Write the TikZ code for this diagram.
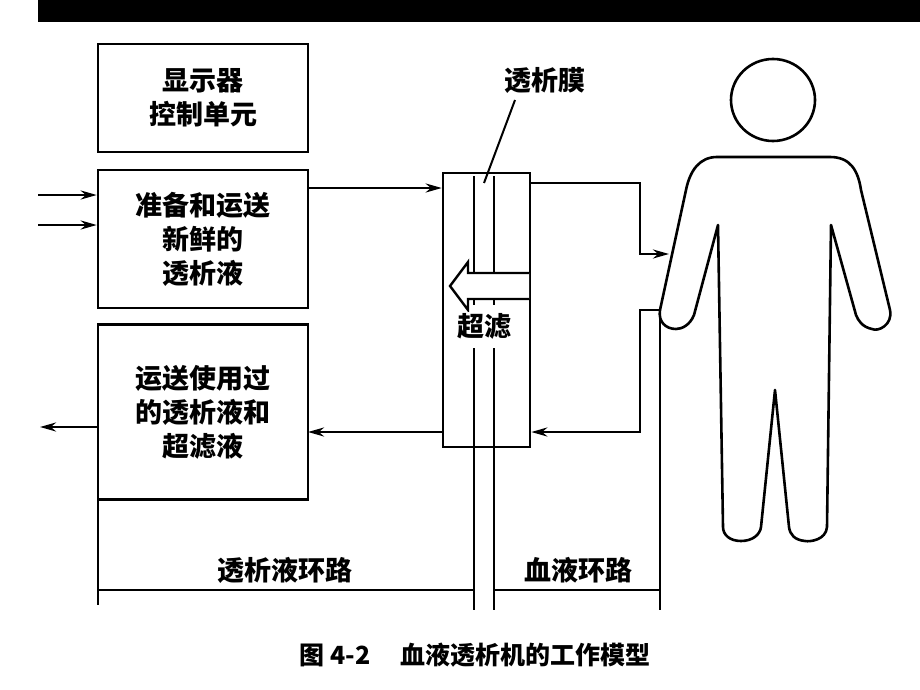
\documentclass[tikz,border=0pt]{standalone}
\usepackage{fontspec}
\setmainfont{Noto Sans CJK SC}
\usetikzlibrary{arrows.meta}
\begin{document}
\begin{tikzpicture}[x=1pt,y=-1pt,line width=2.6pt,
  box/.style={draw,line width=2.6pt,font=\fontsize{27}{34}\selectfont\bfseries,align=center,inner sep=0},
  lab/.style={font=\fontsize{27}{34}\selectfont\bfseries,inner sep=1pt},
  arr/.style={-{Stealth[length=16pt,width=9pt]}}]
\useasboundingbox (0,0) rectangle (920,690);
\fill[black] (38,0) rectangle (920,22);
\node[box,minimum width=210,minimum height=108] (b1) at (203,98) {显示器\\控制单元};
\node[box,minimum width=210,minimum height=138] (b2) at (203,239) {准备和运送\\新鲜的\\透析液};
\node[box,minimum width=210,minimum height=175] (b3) at (203,412) {运送使用过\\的透析液和\\超滤液};
\coordinate (i1) at (38,195); \coordinate (i2) at (38,225);
\draw[arr] (i1) -- (i1 -| b2.west);
\draw[arr] (i2) -- (i2 -| b2.west);
\coordinate (o1) at (40,427);
\draw[arr] (b3.west |- o1) -- (o1);
% dialyzer
\node[draw,line width=2.6pt,minimum width=87,minimum height=274,inner sep=0] (d) at (486.5,310) {};
\draw[arr] (308,188) -- (d.west |- 0,188);
\draw[arr] (d.west |- 0,432) -- (308,432);
% membrane lines
\draw (474,176) -- (474,305) (474,348) -- (474,610);
\draw (494,176) -- (494,305) (494,348) -- (494,610);
\filldraw[fill=white,line width=2.4pt,line join=miter] (529,273) -- (468,273) -- (468,262) -- (450,286) -- (468,310) -- (468,299) -- (529,299);
\node[lab,fill=white] (uf) at (484,326) {超滤};
\node[lab] (mem) at (545,80) {透析膜};
\draw[line width=2pt] (515,100) -- (484,183);
% blood circuit
\coordinate (c1) at (640,183);
\coordinate (c2) at (669,254);
\draw[arr] (d.east |- c1) -- (c1) -- (640,254) -- (c2);
\coordinate (c3) at (660,310);
\draw[arr] (c3) -- (640,310) -- (640,432) -- (d.east |- 0,432);
\draw (c3) -- (660,610);
% person
\draw[line width=2.6pt] (773,100) ellipse (42 and 41);
\draw[line width=2.6pt,line join=round] (717,157) -- (830,157)
  .. controls (850,157) and (858,170) .. (861,190)
  -- (890,310) .. controls (893,325) and (878,332) .. (872,329)
  .. controls (862,327) and (858,320) .. (856,315)
  -- (831,225) -- (827,527)
  .. controls (826,540) and (810,542) .. (805,541)
  .. controls (795,540) and (790,535) .. (789,527)
  -- (775,390) -- (761,527)
  .. controls (760,535) and (752,541) .. (741,541)
  .. controls (730,541) and (723,535) .. (723,527)
  -- (718,225) -- (694,315)
  .. controls (690,325) and (682,329) .. (676,329)
  .. controls (666,329) and (658,322) .. (660,310)
  -- (686,190) .. controls (690,170) and (700,157) .. (717,157) -- cycle;
% dimension lines
\draw (98,500) -- (98,605);
\draw (98,590) -- (474,590);
\draw (494,590) -- (660,590);
\node[lab] (l1) at (285,570) {透析液环路};
\node[lab] (l2) at (578,570) {血液环路};
\node[font=\fontsize{25}{30}\selectfont\bfseries] (cap) at (475,655) {图 4-2\hspace{1.2em}血液透析机的工作模型};
\end{tikzpicture}
\end{document}
